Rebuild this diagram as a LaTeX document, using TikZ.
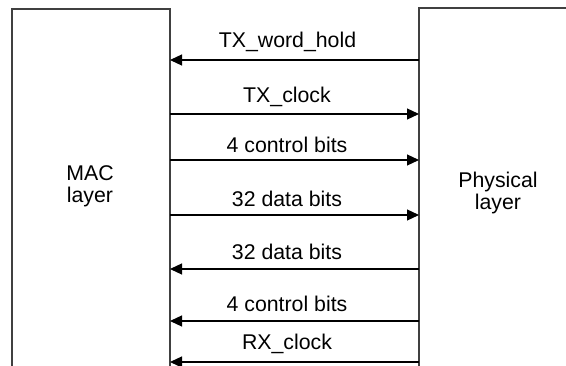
\documentclass[tikz,border=0pt]{standalone}
\usepackage{fontspec}
\setmainfont{Liberation Sans}
\usetikzlibrary{arrows.meta}
\begin{document}
\begin{tikzpicture}[x=1pt,y=-1pt,
  boxline/.style={line width=1.4pt,draw=black!75},
  sig/.style={line width=1.2pt,draw=black,-{Triangle[length=12pt,width=11pt]}},
  lbl/.style={anchor=base,inner sep=0pt,font=\fontsize{21.3}{22}\selectfont},
  layertxt/.style={align=center,inner sep=0pt,font=\fontsize{21.3}{22}\selectfont}]
\useasboundingbox (0,0) rectangle (566,366);
% boxes (open at bottom)
\coordinate (macTL) at (12,9);
\coordinate (macTR) at (170,9);
\coordinate (phyTL) at (419,8);
\coordinate (phyTR) at (567,8);
\draw[boxline] (12,367) -- (macTL) -- (macTR) -- (170,367);
\draw[boxline] (419,367) -- (phyTL) -- (phyTR);
\node[layertxt] (mac) at (90,186) {MAC\\layer};
\node[layertxt] (phy) at (498,193) {Physical\\layer};
% signal end points
\foreach \n/\y in {a/60,b/114,c/160,d/215,e/269,f/321,g/362}{
  \coordinate (L\n) at (170,\y);
  \coordinate (R\n) at (419,\y);
}
\draw[sig] (Ra) -- (La);
\draw[sig] (Lb) -- (Rb);
\draw[sig] (Lc) -- (Rc);
\draw[sig] (Ld) -- (Rd);
\draw[sig] (Re) -- (Le);
\draw[sig] (Rf) -- (Lf);
\draw[sig] (Rg) -- (Lg);
\node[lbl] (ta) at (287.5,48) {TX\_word\_hold};
\node[lbl] (tb) at (287,103) {TX\_clock};
\node[lbl] (tc) at (287,153) {4 control bits};
\node[lbl] (td) at (287,207) {32 data bits};
\node[lbl] (te) at (287,260) {32 data bits};
\node[lbl] (tf) at (287,312) {4 control bits};
\node[lbl] (tg) at (287,350) {RX\_clock};
\end{tikzpicture}
\end{document}
